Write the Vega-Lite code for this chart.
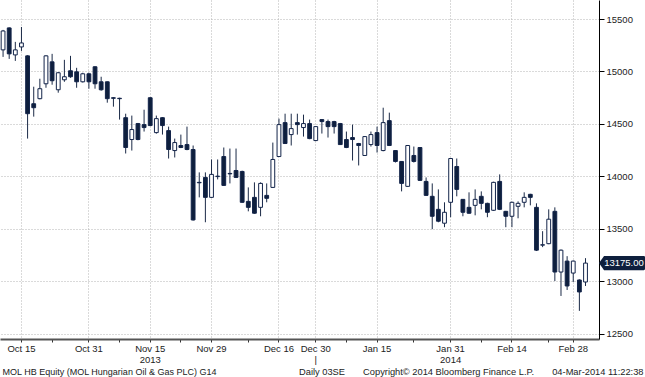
{
  "$schema": "https://vega.github.io/schema/vega-lite/v6.json",
  "autosize": {"type": "none"},
  "padding": {"left": 0, "top": 0, "right": 46, "bottom": 38},
  "width": 599,
  "height": 339,
  "background": "#ffffff",
  "config": {"view": {"stroke": null}, "font": "Liberation Sans"},
  "data": {"values": [
    {"date": "2013-10-10", "open": 15206, "high": 15396, "low": 15139, "close": 15386},
    {"date": "2013-10-11", "open": 15415, "high": 15420, "low": 15120, "close": 15168},
    {"date": "2013-10-14", "open": 15158, "high": 15282, "low": 15101, "close": 15206},
    {"date": "2013-10-15", "open": 15234, "high": 15424, "low": 15196, "close": 15272},
    {"date": "2013-10-16", "open": 15149, "high": 15155, "low": 14361, "close": 14598},
    {"date": "2013-10-17", "open": 14693, "high": 14855, "low": 14570, "close": 14655},
    {"date": "2013-10-18", "open": 14741, "high": 14931, "low": 14735, "close": 14836},
    {"date": "2013-10-21", "open": 14883, "high": 15155, "low": 14845, "close": 15149},
    {"date": "2013-10-22", "open": 15092, "high": 15168, "low": 14874, "close": 14912},
    {"date": "2013-10-24", "open": 14826, "high": 14995, "low": 14798, "close": 14988},
    {"date": "2013-10-25", "open": 14921, "high": 15111, "low": 14902, "close": 14950},
    {"date": "2013-10-28", "open": 15007, "high": 15149, "low": 14940, "close": 14950},
    {"date": "2013-10-29", "open": 14997, "high": 15035, "low": 14845, "close": 14902},
    {"date": "2013-10-30", "open": 14902, "high": 14988, "low": 14895, "close": 14978},
    {"date": "2013-10-31", "open": 14978, "high": 14988, "low": 14836, "close": 14902},
    {"date": "2013-11-04", "open": 15045, "high": 15050, "low": 14836, "close": 14883},
    {"date": "2013-11-05", "open": 14902, "high": 14950, "low": 14817, "close": 14826},
    {"date": "2013-11-06", "open": 14902, "high": 14905, "low": 14703, "close": 14741},
    {"date": "2013-11-07", "open": 14750, "high": 14755, "low": 14665, "close": 14745},
    {"date": "2013-11-08", "open": 14745, "high": 14750, "low": 14542, "close": 14741},
    {"date": "2013-11-11", "open": 14560, "high": 14598, "low": 14219, "close": 14276},
    {"date": "2013-11-12", "open": 14352, "high": 14580, "low": 14247, "close": 14447},
    {"date": "2013-11-13", "open": 14504, "high": 14510, "low": 14345, "close": 14352},
    {"date": "2013-11-14", "open": 14494, "high": 14636, "low": 14428, "close": 14466},
    {"date": "2013-11-15", "open": 14750, "high": 14755, "low": 14480, "close": 14485},
    {"date": "2013-11-18", "open": 14418, "high": 14580, "low": 14408, "close": 14551},
    {"date": "2013-11-19", "open": 14560, "high": 14565, "low": 14399, "close": 14485},
    {"date": "2013-11-20", "open": 14437, "high": 14475, "low": 14171, "close": 14257},
    {"date": "2013-11-21", "open": 14247, "high": 14361, "low": 14181, "close": 14323},
    {"date": "2013-11-22", "open": 14295, "high": 14399, "low": 14270, "close": 14276},
    {"date": "2013-11-25", "open": 14304, "high": 14475, "low": 14250, "close": 14257},
    {"date": "2013-11-26", "open": 14257, "high": 14295, "low": 13580, "close": 13586},
    {"date": "2013-11-27", "open": 13944, "high": 14039, "low": 13801, "close": 13940},
    {"date": "2013-11-28", "open": 13991, "high": 14039, "low": 13564, "close": 13801},
    {"date": "2013-11-29", "open": 13801, "high": 14162, "low": 13795, "close": 14020},
    {"date": "2013-12-02", "open": 13999, "high": 14162, "low": 13972, "close": 14003},
    {"date": "2013-12-03", "open": 14190, "high": 14276, "low": 13910, "close": 13915},
    {"date": "2013-12-04", "open": 14029, "high": 14266, "low": 13934, "close": 14025},
    {"date": "2013-12-05", "open": 14057, "high": 14266, "low": 13985, "close": 13991},
    {"date": "2013-12-06", "open": 14048, "high": 14055, "low": 13750, "close": 13754},
    {"date": "2013-12-09", "open": 13763, "high": 13896, "low": 13668, "close": 13706},
    {"date": "2013-12-10", "open": 13801, "high": 13944, "low": 13645, "close": 13650},
    {"date": "2013-12-11", "open": 13706, "high": 13944, "low": 13621, "close": 13934},
    {"date": "2013-12-12", "open": 13820, "high": 13934, "low": 13754, "close": 13792},
    {"date": "2013-12-13", "open": 13896, "high": 14323, "low": 13890, "close": 14162},
    {"date": "2013-12-16", "open": 14190, "high": 14551, "low": 14185, "close": 14494},
    {"date": "2013-12-17", "open": 14513, "high": 14598, "low": 14310, "close": 14314},
    {"date": "2013-12-18", "open": 14399, "high": 14598, "low": 14295, "close": 14456},
    {"date": "2013-12-19", "open": 14513, "high": 14598, "low": 14399, "close": 14494},
    {"date": "2013-12-20", "open": 14466, "high": 14589, "low": 14380, "close": 14504},
    {"date": "2013-12-23", "open": 14504, "high": 14542, "low": 14355, "close": 14361},
    {"date": "2013-12-30", "open": 14342, "high": 14480, "low": 14337, "close": 14475},
    {"date": "2014-01-02", "open": 14542, "high": 14545, "low": 14409, "close": 14523},
    {"date": "2014-01-03", "open": 14523, "high": 14542, "low": 14371, "close": 14475},
    {"date": "2014-01-06", "open": 14523, "high": 14530, "low": 14409, "close": 14475},
    {"date": "2014-01-07", "open": 14504, "high": 14510, "low": 14300, "close": 14304},
    {"date": "2014-01-08", "open": 14352, "high": 14428, "low": 14270, "close": 14276},
    {"date": "2014-01-09", "open": 14371, "high": 14494, "low": 14152, "close": 14352},
    {"date": "2014-01-10", "open": 14314, "high": 14320, "low": 14105, "close": 14295},
    {"date": "2014-01-13", "open": 14200, "high": 14385, "low": 14195, "close": 14380},
    {"date": "2014-01-14", "open": 14304, "high": 14428, "low": 14285, "close": 14399},
    {"date": "2014-01-15", "open": 14418, "high": 14475, "low": 14228, "close": 14295},
    {"date": "2014-01-16", "open": 14247, "high": 14655, "low": 14240, "close": 14513},
    {"date": "2014-01-17", "open": 14532, "high": 14608, "low": 14290, "close": 14295},
    {"date": "2014-01-20", "open": 14247, "high": 14250, "low": 14133, "close": 14143},
    {"date": "2014-01-21", "open": 14143, "high": 14145, "low": 13858, "close": 13934},
    {"date": "2014-01-22", "open": 13906, "high": 14300, "low": 13900, "close": 14295},
    {"date": "2014-01-23", "open": 14200, "high": 14285, "low": 14133, "close": 14143},
    {"date": "2014-01-24", "open": 14276, "high": 14280, "low": 13958, "close": 13963},
    {"date": "2014-01-27", "open": 13953, "high": 13991, "low": 13815, "close": 13820},
    {"date": "2014-01-28", "open": 13811, "high": 13934, "low": 13498, "close": 13621},
    {"date": "2014-01-29", "open": 13687, "high": 13877, "low": 13564, "close": 13574},
    {"date": "2014-01-30", "open": 13555, "high": 13754, "low": 13517, "close": 13659},
    {"date": "2014-01-31", "open": 13754, "high": 14175, "low": 13612, "close": 14171},
    {"date": "2014-02-03", "open": 14095, "high": 14171, "low": 13811, "close": 13877},
    {"date": "2014-02-04", "open": 13782, "high": 13785, "low": 13621, "close": 13659},
    {"date": "2014-02-05", "open": 13706, "high": 13849, "low": 13645, "close": 13650},
    {"date": "2014-02-06", "open": 13725, "high": 13877, "low": 13630, "close": 13782},
    {"date": "2014-02-07", "open": 13811, "high": 13858, "low": 13687, "close": 13744},
    {"date": "2014-02-10", "open": 13744, "high": 13750, "low": 13612, "close": 13659},
    {"date": "2014-02-11", "open": 13678, "high": 13950, "low": 13672, "close": 13944},
    {"date": "2014-02-12", "open": 13953, "high": 14020, "low": 13680, "close": 13687},
    {"date": "2014-02-13", "open": 13668, "high": 13672, "low": 13517, "close": 13621},
    {"date": "2014-02-14", "open": 13621, "high": 13760, "low": 13517, "close": 13754},
    {"date": "2014-02-17", "open": 13716, "high": 13763, "low": 13602, "close": 13744},
    {"date": "2014-02-18", "open": 13754, "high": 13849, "low": 13706, "close": 13801},
    {"date": "2014-02-19", "open": 13830, "high": 13835, "low": 13725, "close": 13801},
    {"date": "2014-02-20", "open": 13706, "high": 13744, "low": 13290, "close": 13298},
    {"date": "2014-02-21", "open": 13346, "high": 13479, "low": 13327, "close": 13350},
    {"date": "2014-02-24", "open": 13360, "high": 13687, "low": 13355, "close": 13593},
    {"date": "2014-02-25", "open": 13668, "high": 13706, "low": 13004, "close": 13090},
    {"date": "2014-02-26", "open": 13090, "high": 13305, "low": 12862, "close": 13298},
    {"date": "2014-02-27", "open": 13194, "high": 13241, "low": 12919, "close": 12957},
    {"date": "2014-02-28", "open": 13080, "high": 13200, "low": 12995, "close": 13194},
    {"date": "2014-03-03", "open": 13014, "high": 13020, "low": 12720, "close": 12900},
    {"date": "2014-03-04", "open": 12995, "high": 13222, "low": 12957, "close": 13175}
  ]},
  "encoding": {
    "x": {
      "field": "date",
      "type": "ordinal",
      "sort": null,
      "scale": {"paddingInner": 0, "paddingOuter": 0.85, "align": 0},
      "axis": {
        "values": ["2013-10-15", "2013-10-22", "2013-10-31", "2013-11-08", "2013-11-15", "2013-11-22", "2013-11-29", "2013-12-09", "2013-12-16", "2013-12-30", "2014-01-08", "2014-01-15", "2014-01-23", "2014-01-31", "2014-02-07", "2014-02-14", "2014-02-24", "2014-02-28"],
        "bandPosition": 0.5,
        "labelExpr": "datum.value == '2013-11-15' ? ['Nov 15', '2013'] : datum.value == '2014-01-31' ? ['Jan 31', '2014'] : datum.value == '2013-12-30' ? ['Dec 30', '|'] : indexof(['2013-10-15', '2013-10-31', '2013-11-29', '2013-12-16', '2014-01-15', '2014-02-14', '2014-02-28'], datum.value) >= 0 ? utcFormat(toDate(datum.value), '%b %d') : ''",
        "labelAngle": 0,
        "labelAlign": "center",
        "labelBaseline": "top",
        "labelFont": "Liberation Sans",
        "labelFontSize": 9.5,
        "labelColor": "#222222",
        "labelPadding": 1,
        "labelLineHeight": 11,
        "labelOverlap": false,
        "labelBound": false,
        "tickSize": 3,
        "tickColor": "#333333",
        "domainColor": "#555555",
        "domainWidth": 2,
        "grid": true,
        "gridColor": "#b5b5b5",
        "gridDash": [1, 2],
        "gridWidth": 1,
        "gridOpacity": {"condition": {"test": "indexof(['2013-10-15', '2013-10-31', '2013-11-15', '2013-11-29', '2013-12-16', '2013-12-30', '2014-01-15', '2014-01-31', '2014-02-14', '2014-02-28'], datum.value) < 0", "value": 0}, "value": 1},
        "title": "MOL HB Equity (MOL Hungarian Oil & Gas PLC) G14",
        "titleFont": "Liberation Sans",
        "titleFontSize": 9,
        "titleFontWeight": "normal",
        "titleColor": "#222222",
        "titleAnchor": "start",
        "titleAlign": "left",
        "titleBaseline": "alphabetic",
        "titleX": 2,
        "titleY": 35.5
      }
    }
  },
  "layer": [
    {
      "mark": {"type": "rule", "color": "#1b2a47", "strokeWidth": 1},
      "encoding": {
        "y": {
          "field": "low",
          "type": "quantitative",
          "scale": {"domain": [12452, 15681], "nice": false, "zero": false},
          "axis": {
            "orient": "right",
            "values": [12500, 12750, 13000, 13250, 13500, 13750, 14000, 14250, 14500, 14750, 15000, 15250, 15500],
            "labelExpr": "datum.value % 500 == 0 ? format(datum.value, 'd') : ''",
            "labelFont": "Liberation Sans",
            "labelFontSize": 9.5,
            "labelColor": "#222222",
            "labelPadding": 2,
            "tickColor": "#000000",
            "tickSize": {"condition": {"test": "datum.value % 500 != 0", "value": 3}, "value": 5},
            "domainColor": "#000000",
            "domainWidth": 1,
            "grid": true,
            "gridColor": "#b5b5b5",
            "gridDash": [1, 2],
            "gridWidth": 1,
            "gridOpacity": {"condition": {"test": "datum.value % 500 != 0", "value": 0}, "value": 1},
            "title": "Daily 03SE\u00a0\u00a0\u00a0\u00a0\u00a0\u00a0\u00a0Copyright\u00a9 2014 Bloomberg Finance L.P.\u00a0\u00a0\u00a0\u00a0\u00a0\u00a0\u00a004-Mar-2014 11:22:38",
            "titleFont": "Liberation Sans",
            "titleFontSize": 9.3,
            "titleFontWeight": "normal",
            "titleColor": "#222222",
            "titleAngle": 0,
            "titleAlign": "right",
            "titleBaseline": "alphabetic",
            "titleX": 44,
            "titleY": 374.5
          }
        },
        "y2": {"field": "high"}
      }
    },
    {
      "mark": {"type": "bar", "width": {"band": 0.62}, "stroke": "#13244a", "strokeWidth": 1},
      "encoding": {
        "y": {"field": "open", "type": "quantitative", "scale": {"domain": [12452, 15681], "nice": false, "zero": false}},
        "y2": {"field": "close"},
        "fill": {"condition": {"test": "datum.close < datum.open", "value": "#0e1f3d"}, "value": "#ffffff"}
      }
    },
    {
      "transform": [{"filter": "datum.date == '2014-03-04'"}],
      "mark": {"type": "point", "shape": "M-1,0L-0.78,-0.31L0.95,-0.31Q1,-0.31 1,-0.26L1,0.26Q1,0.31 0.95,0.31L-0.78,0.31Z", "filled": true, "size": 2116, "color": "#0e1f3d", "opacity": 1, "xOffset": 23},
      "encoding": {
        "x": {"value": "width"},
        "y": {"field": "close", "type": "quantitative", "scale": {"domain": [12452, 15681], "nice": false, "zero": false}}
      }
    },
    {
      "transform": [{"filter": "datum.date == '2014-03-04'"}],
      "mark": {"type": "text", "color": "#ffffff", "font": "Liberation Sans", "fontSize": 9.5, "align": "center", "baseline": "middle", "dx": 25},
      "encoding": {
        "x": {"value": "width"},
        "y": {"field": "close", "type": "quantitative", "scale": {"domain": [12452, 15681], "nice": false, "zero": false}},
        "text": {"field": "close", "type": "quantitative", "format": ".2f"}
      }
    }
  ]
}
